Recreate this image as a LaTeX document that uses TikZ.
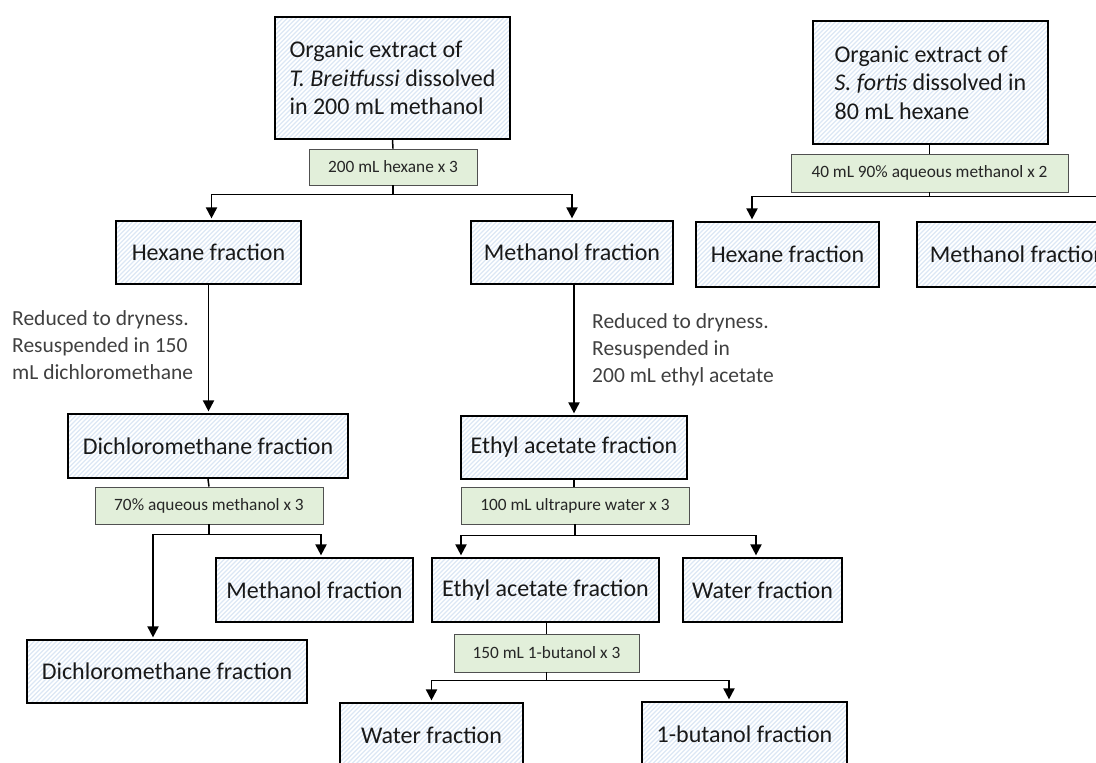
\documentclass[tikz,border=0pt]{standalone}
\usepackage{fontspec}
\setmainfont{Carlito}
\usetikzlibrary{arrows.meta}
\definecolor{hatch}{RGB}{220,231,245}
\definecolor{gfill}{RGB}{226,239,218}
\definecolor{gdraw}{RGB}{80,80,80}
\definecolor{note}{RGB}{64,64,64}
\tikzset{
  box/.style={draw=black, line width=2.2pt, fill=white,
    path picture={
      \foreach \i in {-140,-135.5,...,290}
        \draw[hatch, line width=1.3pt]
          ([xshift=\i pt]path picture bounding box.south west) -- ++(140pt,140pt);
    },
    inner sep=0pt, font=\fontsize{24}{28.5}\selectfont, text=black!90},
  label/.style={draw=gdraw, line width=0.9pt, fill=gfill, inner sep=0pt,
    font=\fontsize{17.3}{20}\selectfont, text=black!85},
  notetext/.style={align=left, inner sep=0pt, text=note,
    font=\fontsize{21.5}{27}\selectfont},
  conn/.style={line width=1.9pt, draw=black},
  stem/.style={line width=1.5pt, draw=black},
  arr/.style={conn, -{Triangle[length=11pt,width=11pt]}, shorten >=1.5pt},
}
\begin{document}
\begin{tikzpicture}[x=1pt,y=-1pt]
\useasboundingbox (0,0) rectangle (1096,763);
\clip (0,0) rectangle (1096,763);

% ---- left tree ----
\node[box, minimum width=235pt, minimum height=122pt, align=left] (top1) at (392.5,78)
  {Organic extract of\\\textit{T. Breitfussi} dissolved\\in 200 mL methanol};
\node[label, minimum width=168pt, minimum height=36pt] (g1) at (393,167) {200 mL hexane x 3};
\node[box, minimum width=185pt, minimum height=63pt] (hex1) at (208.5,252.5) {Hexane fraction};
\node[box, minimum width=202pt, minimum height=63pt] (meth1) at (572,252.5) {Methanol fraction};
\node[box, minimum width=280pt, minimum height=64pt] (dcm1) at (208,446) {Dichloromethane fraction};
\node[box, minimum width=226pt, minimum height=63pt] (ea1) at (574,447.5) {Ethyl acetate fraction};
\node[label, minimum width=228pt, minimum height=37pt] (g70) at (209,505.5) {70\% aqueous methanol x 3};
\node[label, minimum width=228pt, minimum height=37pt] (gw) at (575,505.5) {100 mL ultrapure water x 3};
\node[box, minimum width=197pt, minimum height=64pt] (meth2) at (314.5,590) {Methanol fraction};
\node[box, minimum width=280pt, minimum height=63pt] (dcm2) at (167,671.5) {Dichloromethane fraction};
\node[box, minimum width=227pt, minimum height=64pt] (ea2) at (545.5,590) {Ethyl acetate fraction};
\node[box, minimum width=159pt, minimum height=64pt] (water1) at (762.5,590) {Water fraction};
\node[label, minimum width=185pt, minimum height=38pt] (gb) at (546.5,653) {150 mL 1-butanol x 3};
\node[box, minimum width=183pt, minimum height=64pt] (water2) at (431.5,735) {Water fraction};
\node[box, minimum width=205pt, minimum height=64pt] (but) at (744.5,734) {1-butanol fraction};

\node[notetext, anchor=west] (n1) at (12,345) {Reduced to dryness.\\Resuspended in 150\\mL dichloromethane};
\node[notetext, anchor=west] (n2) at (592,350) {Reduced to dryness.\\Resuspended in\\200 mL ethyl acetate};

% ---- right tree ----
\node[box, minimum width=235pt, minimum height=123pt, align=left] (top2) at (930.5,82.5)
  {Organic extract of\\\textit{S. fortis} dissolved in\\80 mL hexane};
\node[label, minimum width=277pt, minimum height=38pt] (g2) at (929.5,173) {40 mL 90\% aqueous methanol x 2};
\node[box, minimum width=183pt, minimum height=65pt] (hex2) at (787.5,254.5) {Hexane fraction};
\node[box, minimum width=202pt, minimum height=65pt] (meth3) at (1018,254.5) {Methanol fraction};

% ---- connectors ----
\draw[stem] (top1.south) -- (g1.north);
\draw[arr] (g1.south) -- ++(0,9) -| ([xshift=3pt]hex1.north);
\draw[arr] (g1.south) -- ++(0,9) -| (meth1.north);
\draw[arr] (hex1.south) -- (hex1.south |- dcm1.north);
\draw[arr] (meth1.south -| ea1.north) -- (ea1.north);
\draw[stem] (dcm1.south) -- (g70.north);
\draw[arr] (g70.south) -- ++(0,10) -| ([xshift=-14pt]dcm2.north);
\draw[arr] (g70.south) -- ++(0,10) -| ([xshift=6.5pt]meth2.north);
\draw[stem] (ea1.south) -- (ea1.south |- gw.north);
\draw[arr] (gw.south) -- ++(0,11) -| ([xshift=-84.5pt]ea2.north);
\draw[arr] (gw.south) -- ++(0,11) -| ([xshift=-6.5pt]water1.north);
\draw[stem] (ea2.south -| gb.north) -- (gb.north);
\draw[arr] (gb.south) -- ++(0,8) -| (water2.north);
\draw[arr] (gb.south) -- ++(0,8) -| ([xshift=-15.5pt]but.north);
\draw[stem] (top2.south -| g2.north) -- (g2.north);
\draw[arr] (g2.south) -- ++(0,4) -| ([xshift=-35.5pt]hex2.north);
\draw[arr] (g2.south) -- ++(0,4) -| ([xshift=86pt]meth3.north);
\end{tikzpicture}
\end{document}
